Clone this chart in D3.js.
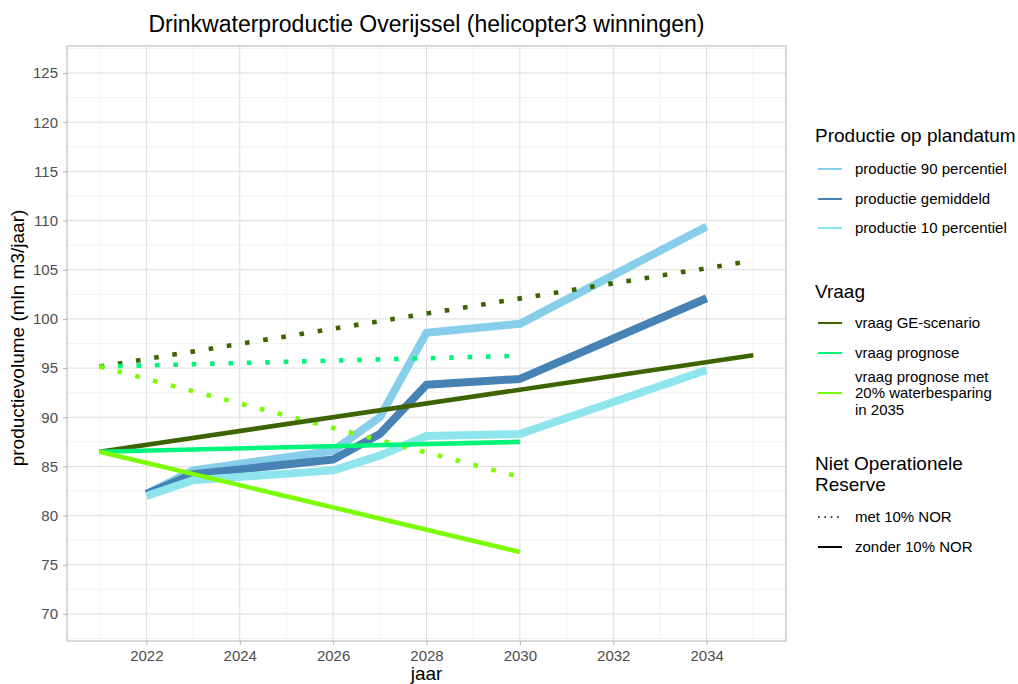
<!DOCTYPE html>
<html>
<head>
<meta charset="utf-8">
<script src="https://cdn.jsdelivr.net/npm/d3@7"></script>
<style>
  html, body { margin: 0; padding: 0; background: #fff; }
  svg { display: block; font-family: "Liberation Sans", Arial, sans-serif; }
</style>
</head>
<body>
<svg id="chart" width="1018" height="684"></svg>
<script>
// ---- data ----
const prodYears = [2022, 2023, 2026, 2027, 2028, 2030, 2034];
const prod90   = [82.2, 84.6, 86.6, 90.0, 98.6, 99.5, 109.4];
const prodMean = [82.2, 84.2, 85.7, 88.3, 93.3, 93.9, 102.1];
const prod10   = [82.0, 83.6, 84.6, 86.1, 88.1, 88.3, 94.8];

const geYears = [2021, 2035];
const geDemand = [86.5, 96.3];
const progYears = [2021, 2030];
const progDemand = [86.5, 87.5];
const saveYears = [2021, 2030];
const saveDemand = [86.5, 76.3];
const norFactor = 1.1;

const xTicks = [2022, 2024, 2026, 2028, 2030, 2032, 2034];
const yTicks = [70, 75, 80, 85, 90, 95, 100, 105, 110, 115, 120, 125];

const title = "Drinkwaterproductie Overijssel (helicopter3 winningen)";
const xTitle = "jaar";
const yTitle = "productievolume (mln m3/jaar)";

const prodNames = ["productie 90 percentiel", "productie gemiddeld", "productie 10 percentiel"];
const prodColors = ["#87CEEB", "#4682B4", "#8EE5EE"];
const demandNames = ["vraag GE-scenario", "vraag prognose", ["vraag prognose met", "20% waterbesparing", "in 2035"]];
const demandColors = ["#3d6400", "#00F57A", "#7CFC00"];
const norNames = ["met 10% NOR", "zonder 10% NOR"];

// ---- layout ----
const svg = d3.select("#chart");
const P = { left: 67, right: 786, top: 46, bottom: 641 };

const x = d3.scaleLinear().domain([2020.3, 2035.7]).range([P.left, P.right]);
const y = d3.scaleLinear().domain([67.25, 127.75]).range([P.bottom, P.top]);

// grid
const g = svg.append("g");
const xMinor = d3.range(2021, 2036, 2);
const yMinor = d3.range(67.5, 128, 5);
g.selectAll(".xm").data(xMinor).join("line")
  .attr("x1", d => x(d)).attr("x2", d => x(d)).attr("y1", P.top).attr("y2", P.bottom)
  .attr("stroke", "#ececec").attr("stroke-width", 0.7);
g.selectAll(".ym").data(yMinor).join("line")
  .attr("y1", d => y(d)).attr("y2", d => y(d)).attr("x1", P.left).attr("x2", P.right)
  .attr("stroke", "#ececec").attr("stroke-width", 0.7);
g.selectAll(".xM").data(xTicks).join("line")
  .attr("x1", d => x(d)).attr("x2", d => x(d)).attr("y1", P.top).attr("y2", P.bottom)
  .attr("stroke", "#dedede").attr("stroke-width", 1);
g.selectAll(".yM").data(yTicks).join("line")
  .attr("y1", d => y(d)).attr("y2", d => y(d)).attr("x1", P.left).attr("x2", P.right)
  .attr("stroke", "#dedede").attr("stroke-width", 1);

// axes
const xAxis = svg.append("g").attr("transform", `translate(0,${P.bottom})`)
  .call(d3.axisBottom(x).tickValues(xTicks).tickFormat(d3.format("d")).tickSize(4).tickPadding(5));
const yAxis = svg.append("g").attr("transform", `translate(${P.left},0)`)
  .call(d3.axisLeft(y).tickValues(yTicks).tickSize(4).tickPadding(5));
[xAxis, yAxis].forEach(a => {
  a.select(".domain").remove();
  a.selectAll(".tick line").attr("stroke", "#b3b3b3");
  a.selectAll(".tick text").attr("fill", "#4d4d4d").style("font-size", "15px")
    .style("font-family", '"Liberation Sans", Arial, sans-serif');
});

// panel border
svg.append("rect").attr("x", P.left).attr("y", P.top)
  .attr("width", P.right - P.left).attr("height", P.bottom - P.top)
  .attr("fill", "none").attr("stroke", "#b3b3b3").attr("stroke-width", 1);

// lines
const line = d3.line().x(d => x(d[0])).y(d => y(d[1]));
const zip = (xs, ys) => xs.map((v, i) => [v, ys[i]]);
const lines = svg.append("g").attr("fill", "none").attr("stroke-linejoin", "round").attr("stroke-linecap", "butt");

[prod90, prodMean, prod10].forEach((vals, i) => {
  lines.append("path").datum(zip(prodYears, vals)).attr("d", line)
    .attr("stroke", prodColors[i]).attr("stroke-width", 8);
});

const demandSets = [[geYears, geDemand], [progYears, progDemand], [saveYears, saveDemand]];
demandSets.forEach(([ys, vs], i) => {
  lines.append("path").datum(zip(ys, vs.map(v => v * norFactor))).attr("d", line)
    .attr("stroke", demandColors[i]).attr("stroke-width", 4.6)
    .attr("stroke-dasharray", "4.6,13.8");
});
demandSets.forEach(([ys, vs], i) => {
  lines.append("path").datum(zip(ys, vs)).attr("d", line)
    .attr("stroke", demandColors[i]).attr("stroke-width", 4.6);
});

// titles
svg.append("text").attr("x", (P.left + P.right) / 2).attr("y", 32)
  .attr("text-anchor", "middle").style("font-size", "23px").attr("fill", "#000").text(title);
svg.append("text").attr("x", (P.left + P.right) / 2).attr("y", 680)
  .attr("text-anchor", "middle").style("font-size", "19px").attr("fill", "#000").text(xTitle);
svg.append("text").attr("transform", `translate(24,338) rotate(-90)`)
  .attr("text-anchor", "middle").style("font-size", "19px").attr("fill", "#000").text(yTitle);

// legend
const L = svg.append("g");
const lx = 815, keyX1 = 818, keyX2 = 842, labX = 855;
function legTitle(lines_, y0) {
  lines_.forEach((t, i) => L.append("text").attr("x", lx).attr("y", y0 + i * 21)
    .style("font-size", "19px").attr("fill", "#000").text(t));
}
function legItem(color, label, cy, dashed) {
  const k = L.append("line").attr("x1", keyX1).attr("x2", keyX2).attr("y1", cy).attr("y2", cy)
    .attr("stroke", color).attr("stroke-width", dashed ? 1.6 : 2);
  if (dashed) k.attr("stroke-dasharray", "1.6,4.8");
  const labs = Array.isArray(label) ? label : [label];
  const off = (labs.length - 1) * 16.5 / 2;
  labs.forEach((t, i) => L.append("text").attr("x", labX).attr("y", cy - off + i * 16.5 + 5)
    .style("font-size", "15px").attr("fill", "#000").text(t));
}
legTitle(["Productie op plandatum"], 142);
[169, 199, 228].forEach((cy, i) => legItem(prodColors[i], prodNames[i], cy, false));
legTitle(["Vraag"], 298);
[323, 353, 393].forEach((cy, i) => legItem(demandColors[i], demandNames[i], cy, false));
legTitle(["Niet Operationele", "Reserve"], 470);
legItem("#000", norNames[0], 517, true);
legItem("#000", norNames[1], 547, false);
</script>
</body>
</html>
